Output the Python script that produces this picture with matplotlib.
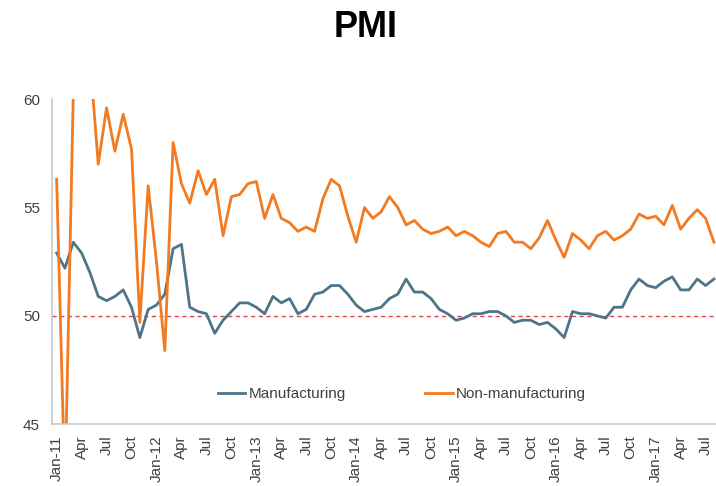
from __future__ import annotations

import matplotlib

matplotlib.use("Agg")
import matplotlib.pyplot as plt

# monthly readings, Jan-11 .. Aug-17
manufacturing = [
    52.9, 52.2, 53.4, 52.9, 52.0, 50.9, 50.7, 50.9, 51.2, 50.4, 49.0, 50.3,
    50.5, 51.0, 53.1, 53.3, 50.4, 50.2, 50.1, 49.2, 49.8, 50.2, 50.6, 50.6,
    50.4, 50.1, 50.9, 50.6, 50.8, 50.1, 50.3, 51.0, 51.1, 51.4, 51.4, 51.0,
    50.5, 50.2, 50.3, 50.4, 50.8, 51.0, 51.7, 51.1, 51.1, 50.8, 50.3, 50.1,
    49.8, 49.9, 50.1, 50.1, 50.2, 50.2, 50.0, 49.7, 49.8, 49.8, 49.6, 49.7,
    49.4, 49.0, 50.2, 50.1, 50.1, 50.0, 49.9, 50.4, 50.4, 51.2, 51.7, 51.4,
    51.3, 51.6, 51.8, 51.2, 51.2, 51.7, 51.4, 51.7,
]
non_manufacturing = [
    56.3, 42.0, 60.2, 62.5, 61.9, 57.0, 59.6, 57.6, 59.3, 57.7, 49.7, 56.0,
    52.5, 48.4, 58.0, 56.1, 55.2, 56.7, 55.6, 56.3, 53.7, 55.5, 55.6, 56.1,
    56.2, 54.5, 55.6, 54.5, 54.3, 53.9, 54.1, 53.9, 55.4, 56.3, 56.0, 54.6,
    53.4, 55.0, 54.5, 54.8, 55.5, 55.0, 54.2, 54.4, 54.0, 53.8, 53.9, 54.1,
    53.7, 53.9, 53.7, 53.4, 53.2, 53.8, 53.9, 53.4, 53.4, 53.1, 53.6, 54.4,
    53.5, 52.7, 53.8, 53.5, 53.1, 53.7, 53.9, 53.5, 53.7, 54.0, 54.7, 54.5,
    54.6, 54.2, 55.1, 54.0, 54.5, 54.9, 54.5, 53.4,
]
start_year = 11
month_names = ["Jan", "Apr", "Jul", "Oct"]
y_ticks = [45, 50, 55, 60]
threshold = 50

BLUE = "#4e7489"
ORANGE = "#f27a20"
RED = "#e2434b"
GREY = "#404040"


def tick_labels(n_months: int) -> tuple[list[int], list[str]]:
    positions = list(range(0, n_months, 3))
    labels = []
    for pos in positions:
        q = (pos % 12) // 3
        if q == 0:
            labels.append(f"Jan-{start_year + pos // 12}")
        else:
            labels.append(month_names[q])
    return positions, labels


def main() -> None:
    plt.rcParams["font.family"] = ["Liberation Sans", "DejaVu Sans"]
    fig = plt.figure(figsize=(7.16, 4.86), dpi=100)
    ax = fig.add_axes([0.0733, 0.127, 0.9267, 0.669])

    x = list(range(len(manufacturing)))
    ax.plot(x, manufacturing, color=BLUE, linewidth=2.0, label="Manufacturing")
    ax.plot(x, non_manufacturing, color=ORANGE, linewidth=2.0, label="Non-manufacturing")
    ax.axhline(threshold, color=RED, linewidth=1.0, linestyle=(0, (3, 2.5)), zorder=1)

    ax.set_xlim(-0.5, len(x) - 0.75)
    ax.set_ylim(y_ticks[0], y_ticks[-1])
    ax.set_yticks(y_ticks)
    positions, labels = tick_labels(len(x))
    ax.set_xticks(positions)
    ax.set_xticklabels(labels, rotation=90)
    ax.tick_params(axis="both", length=0, labelsize=11, colors=GREY)
    ax.tick_params(axis="x", pad=8)
    ax.tick_params(axis="y", pad=9)

    for side in ("top", "right"):
        ax.spines[side].set_visible(False)
    for side in ("left", "bottom"):
        ax.spines[side].set_color("#c8c8c8")
        ax.spines[side].set_linewidth(1.2)

    fig.legend(
        loc="center",
        bbox_to_anchor=(0.561, 0.189),
        ncol=2,
        frameon=False,
        fontsize=11,
        handlelength=1.8,
        handletextpad=0.2,
        columnspacing=5.2,
        labelcolor=GREY,
    )
    fig.text(0.51, 0.943, "PMI", ha="center", va="center", fontsize=26, fontweight="bold")

    fig.savefig("out.png", dpi=100)
    plt.close(fig)


if __name__ == "__main__":
    main()
